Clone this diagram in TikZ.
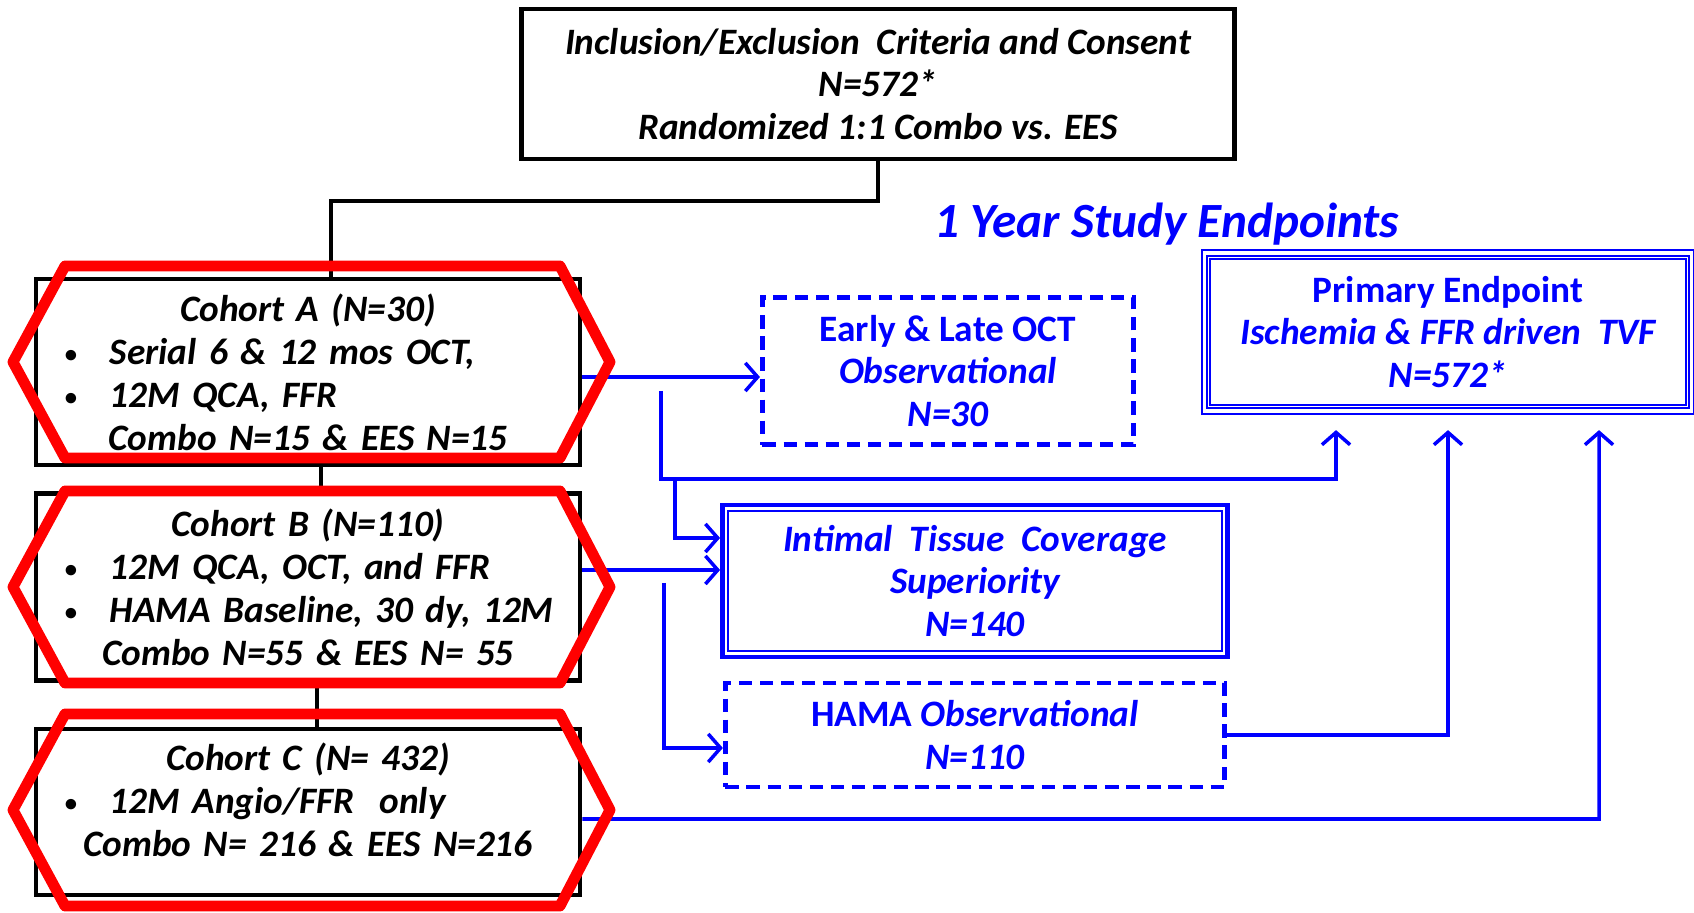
\documentclass[tikz,border=0pt]{standalone}
\usepackage{fontspec}
\setmainfont{Carlito}
\usetikzlibrary{arrows.meta}

\definecolor{epblue}{RGB}{0,0,255}
\definecolor{hexred}{RGB}{255,0,0}

% one bulleted line inside a cohort box
\newcommand{\bulline}[1]{\makebox[5.2cm][l]{\hspace{0.17cm}\makebox[0.45cm][l]{\upshape\fontsize{7}{7}\selectfont\raisebox{0.6pt}{\textbullet}}#1}}

\begin{document}
\begin{tikzpicture}[x=0.01cm,y=-0.01cm,
    font=\fontsize{10.6}{12.2}\selectfont\bfseries\itshape,
    blackbox/.style={draw=black,line width=1.3pt,inner sep=0pt,align=center},
    cohort/.style={blackbox,minimum width=5.44cm,text width=5.2cm},
    bluebox/.style={draw=epblue,text=epblue,inner sep=0pt,align=center},
    dashbox/.style={bluebox,line width=1.4pt,dash pattern=on 3.8pt off 2.2pt},
    link/.style={draw=black,line width=1pt},
    arr/.style={draw=epblue,line width=1pt,-{Straight Barb[length=3.5pt,width=8pt]}},
    toprim/.style={arr,shorten >=0.18cm},
    redhex/.style={draw=hexred,line width=3.1pt,line join=round}]
                \useasboundingbox (0,0) rectangle (1694,913);

                \node[blackbox,minimum width=7.13cm,minimum height=1.5cm] (incl) at (878,84)
                    {Inclusion/Exclusion\ \ Criteria and Consent\\N=572*\\Randomized 1:1 Combo vs. EES};

                \node[cohort,minimum height=1.86cm] (cohA) at (308,372)
                    {Cohort A (N=30)\\\bulline{Serial 6 \& 12 mos OCT,}\\\bulline{12M QCA, FFR}\\Combo N=15 \& EES N=15};
                \node[cohort,minimum height=1.87cm] (cohB) at (308,587)
                    {Cohort B (N=110)\\\bulline{12M QCA, OCT, and FFR}\\\bulline{HAMA Baseline, 30 dy, 12M}\\Combo N=55 \& EES N= 55};
                \node[cohort,minimum height=1.66cm] (cohC) at (308,812)
                    {Cohort C (N= 432)\\\bulline{12M Angio/FFR\ \ only}\\Combo N= 216 \& EES N=216\rule[-0.25cm]{0pt}{0pt}};

                \node[text=epblue,font=\fontsize{14}{16}\selectfont\bfseries\itshape] (ystudy) at (1167,224) {1 Year Study Endpoints};

                \node[dashbox,minimum width=3.71cm,minimum height=1.47cm] (early) at (948,371)
                    {{\upshape Early \& Late OCT}\\Observational\\N=30};
                \node[bluebox,line width=1.3pt,minimum width=5.05cm,minimum height=1.52cm] (intim) at (975,581)
                    {Intimal\ \ Tissue\ \ Coverage\\Superiority\\N=140};
                \draw[epblue,line width=0.5pt] ([shift={(8,8)}]intim.north west) rectangle ([shift={(-8,-8)}]intim.south east);
                \node[dashbox,minimum width=4.99cm,minimum height=1.04cm] (hama) at (975,735)
                    {{\upshape HAMA} Observational\\N=110};
                \node[bluebox,line width=0.6pt,double=white,double distance=0.9pt,minimum width=4.87cm,minimum height=1.58cm] (prim) at (1448,332)
                    {{\upshape Primary Endpoint}\\Ischemia \& FFR driven\ \ TVF\\N=572*};
                \draw[epblue,line width=0.6pt] ([shift={(7,7)}]prim.north west) rectangle ([shift={(-7,-7)}]prim.south east);

                % black tree
                \coordinate (tapA) at (331,201);
                \draw[link] (incl.south) |- (tapA) -- (tapA |- cohA.north);
                \draw[link] (321,465) -- (321,494);
                \draw[link] (317,681) -- (317,729);

                % blue arrows
                \coordinate (brA) at (661,391);
                \coordinate (jA) at (1336,479);
                \coordinate (brI) at (675,479);
                \coordinate (jI) at (675,538);
                \coordinate (brH) at (664,583);
                \coordinate (jH) at (664,748);
                \coordinate (jC) at (1599,819);
                \draw[arr] ([yshift=-0.05cm]cohA.east) -- ([yshift=-0.05cm]cohA.east -| early.west);
                \draw[toprim] (brA) -- (brA |- jA) -- (jA) -- (jA |- prim.south);
                \draw[arr] (brI) -- (jI) -- (jI -| intim.west);
                \draw[arr] ([yshift=0.17cm]cohB.east) -- ([yshift=0.17cm]cohB.east -| intim.west);
                \draw[arr] (brH) -- (jH) -- (jH -| hama.west);
                \draw[toprim] (hama.east) -| (prim.south);
                \draw[toprim] ([yshift=-0.07cm]cohC.east) -- (jC) -- (jC |- prim.south);

                % red highlights
                \foreach \cy in {362,587,810}
                    \draw[redhex] (13,\cy) -- (65,\cy-96) -- (560,\cy-96) -- (610,\cy) -- (560,\cy+96) -- (65,\cy+96) -- cycle;
            \end{tikzpicture}
\end{document}
